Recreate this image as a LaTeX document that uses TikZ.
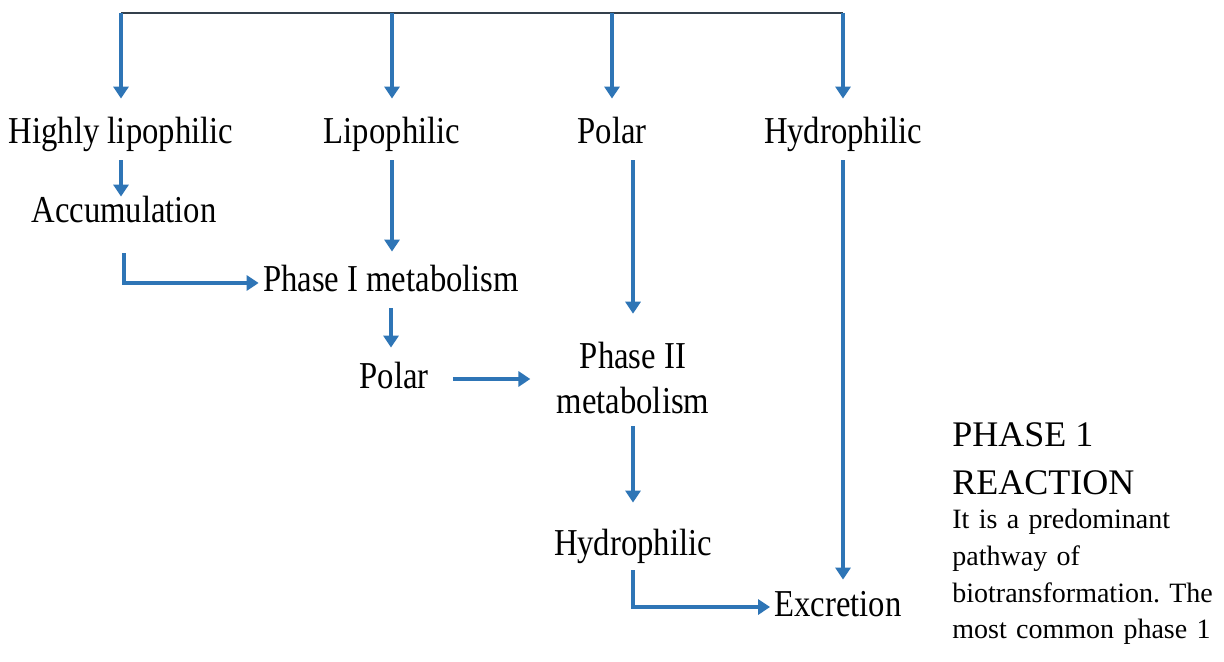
\documentclass[tikz,border=0pt]{standalone}
\usepackage{fontspec}
\setmainfont{Liberation Serif}
\newfontfamily\diafont[FakeStretch=0.86]{Liberation Serif}
\usetikzlibrary{arrows.meta,positioning,calc}

\definecolor{arrowblue}{RGB}{46,117,182}
\definecolor{bardark}{RGB}{52,64,76}

\begin{document}
\frenchspacing
\begin{tikzpicture}[
    x=0.5pt, y=-0.5pt,
    lbl/.style={font=\diafont\fontsize{19}{22}\selectfont, inner sep=0pt, anchor=base,
                text height=13pt, text depth=4pt},
    arrow/.style={-{Triangle[length=6pt,width=7.5pt]}, line width=1.7pt, draw=arrowblue, line cap=butt},
    topline/.style={line width=1.1pt, draw=bardark}
]

% frame of the page
\useasboundingbox[fill=white] (0,0) rectangle (1224,662);

% top row
\coordinate (bar) at (0,13);
\node[lbl] (hl)  at (121,144) {Highly lipophilic};
\node[lbl] (lip) at (392,144) {Lipophilic};
\node[lbl] (pol) at (612,144) {Polar};
\node[lbl] (hyd) at (843,144) {Hydrophilic};

\draw[topline] (hl |- bar) -- (hyd |- bar);
\foreach \n in {hl,lip,pol,hyd}
  \draw[arrow, shorten >=9.5pt] (\n |- bar) -- (\n.north);

% left branch
\node[lbl] (acc) at (124,223) {Accumulation};
\node[lbl] (ph1) at (391,292) {Phase I metabolism};
\node[lbl] (pol2) at (394,388) {Polar};

\draw[arrow, shorten <=4pt, shorten >=0pt] (hl.south) -- (hl.south |- acc.north);
\draw[arrow, shorten <=4pt, shorten >=7pt] (lip.south) -- (lip.south |- ph1.north);
\draw[arrow, shorten <=11pt, shorten >=2pt] (acc.south) |- (ph1.west);
\draw[arrow, shorten <=4pt, shorten >=7pt] (ph1.south) -- (ph1.south |- pol2.north);

% middle branch
\node[align=center, inner sep=0pt, font=\diafont\fontsize{19}{22.5}\selectfont] (ph2) at (633,378) {Phase II\\metabolism};
\node[lbl] (hyd2) at (633,555) {Hydrophilic};
\node[lbl] (exc) at (838,616) {Excretion};

\draw[arrow, shorten <=12pt, shorten >=13pt] (pol2.east) -- (pol2.east -| ph2.west);
\draw[arrow, shorten <=4pt, shorten >=14pt] (pol.south -| ph2.north) -- (ph2.north);
\draw[arrow, shorten <=6pt, shorten >=13pt] (ph2.south) -- (ph2.south |- hyd2.north);
\draw[arrow, shorten <=3.5pt, shorten >=2pt] (hyd2.south) |- (exc.west);

% right branch
\draw[arrow, shorten <=4pt, shorten >=5pt] (hyd.south) -- (hyd.south |- exc.north);

% side text
\node[anchor=base west, inner sep=0pt, align=left, font=\fontsize{18}{24}\selectfont] (head) at (952,494) {PHASE 1\\REACTION};
\node[anchor=north west, inner sep=0pt, align=left, text width=300pt,
      font=\fontsize{14}{18.3}\selectfont] (body) at (952,509)
      {It is a predominant\\pathway of\\biotransformation. The\\most common phase 1};

\end{tikzpicture}
\end{document}
